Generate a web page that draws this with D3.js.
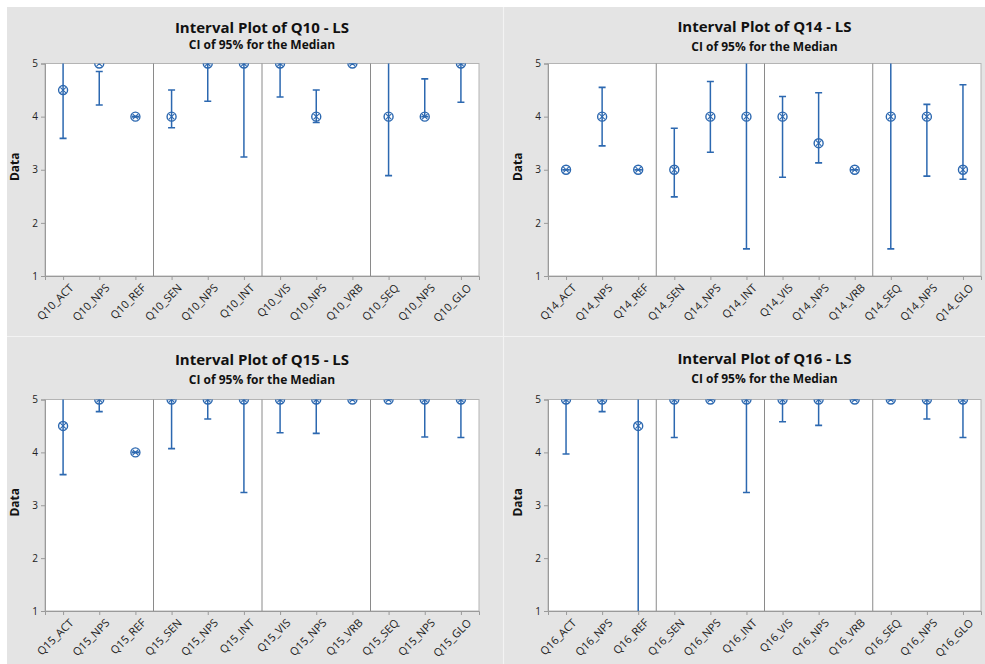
<!DOCTYPE html>
<html>
<head>
<meta charset="utf-8">
<script src="https://cdn.jsdelivr.net/npm/d3@7"></script>
<style>
  html, body { margin: 0; padding: 0; background: #ffffff; }
  svg { display: block; }
  text { font-family: "Open Sans", "Noto Sans", "DejaVu Sans", sans-serif; }
</style>
</head>
<body>
<svg id="chart" width="985" height="664"></svg>
<script>
// ---------------- data ----------------
const yTicks = [1, 2, 3, 4, 5];
const groupBreaks = [2.5, 5.5, 8.5];

const labelsQ10 = ["Q10_ACT","Q10_NPS","Q10_REF","Q10_SEN","Q10_NPS","Q10_INT","Q10_VIS","Q10_NPS","Q10_VRB","Q10_SEQ","Q10_NPS","Q10_GLO"];
const medianQ10 = [4.5, 5, 4, 4, 5, 5, 5, 4, 5, 4, 4, 5];
const lowerQ10  = [3.59, 4.22, 4, 3.79, 4.29, 3.24, 4.37, 3.89, 5, 2.89, 4, 4.27];
const upperQ10  = [5.3, 4.85, 4, 4.5, 5, 5, 5, 4.5, 5, 5.3, 4.71, 5];

const labelsQ14 = ["Q14_ACT","Q14_NPS","Q14_REF","Q14_SEN","Q14_NPS","Q14_INT","Q14_VIS","Q14_NPS","Q14_VRB","Q14_SEQ","Q14_NPS","Q14_GLO"];
const medianQ14 = [3, 4, 3, 3, 4, 4, 4, 3.5, 3, 4, 4, 3];
const lowerQ14  = [3, 3.45, 3, 2.49, 3.33, 1.51, 2.86, 3.13, 3, 1.51, 2.88, 2.82];
const upperQ14  = [3, 4.55, 3, 3.78, 4.66, 5.3, 4.38, 4.45, 3, 5.3, 4.23, 4.6];

const labelsQ15 = ["Q15_ACT","Q15_NPS","Q15_REF","Q15_SEN","Q15_NPS","Q15_INT","Q15_VIS","Q15_NPS","Q15_VRB","Q15_SEQ","Q15_NPS","Q15_GLO"];
const medianQ15 = [4.5, 5, 4, 5, 5, 5, 5, 5, 5, 5, 5, 5];
const lowerQ15  = [3.58, 4.77, 4, 4.07, 4.63, 3.24, 4.37, 4.36, 5, 5, 4.29, 4.28];
const upperQ15  = [5.3, 5, 4, 5, 5, 5, 5, 5, 5, 5, 5, 5];

const labelsQ16 = ["Q16_ACT","Q16_NPS","Q16_REF","Q16_SEN","Q16_NPS","Q16_INT","Q16_VIS","Q16_NPS","Q16_VRB","Q16_SEQ","Q16_NPS","Q16_GLO"];
const medianQ16 = [5, 5, 4.5, 5, 5, 5, 5, 5, 5, 5, 5, 5];
const lowerQ16  = [3.97, 4.77, 0.5, 4.28, 5, 3.24, 4.58, 4.51, 5, 5, 4.63, 4.28];
const upperQ16  = [5, 5, 5.5, 5, 5, 5, 5, 5, 5, 5, 5, 5];

// ---------------- layout ----------------
const panels = [
  { title: "Interval Plot of Q10 - LS", labels: labelsQ10, median: medianQ10, lower: lowerQ10, upper: upperQ10,
    x0: 45, x1: 479, y0: 63.5, y1: 276, titleY: 33, subY: 49 },
  { title: "Interval Plot of Q14 - LS", labels: labelsQ14, median: medianQ14, lower: lowerQ14, upper: upperQ14,
    x0: 548, x1: 981, y0: 63.5, y1: 276, titleY: 32, subY: 51 },
  { title: "Interval Plot of Q15 - LS", labels: labelsQ15, median: medianQ15, lower: lowerQ15, upper: upperQ15,
    x0: 45, x1: 479, y0: 399.5, y1: 611, titleY: 365, subY: 384 },
  { title: "Interval Plot of Q16 - LS", labels: labelsQ16, median: medianQ16, lower: lowerQ16, upper: upperQ16,
    x0: 548, x1: 981, y0: 399.5, y1: 611, titleY: 364, subY: 383 }
];

const BLUE = "#2c68b0";
const svg = d3.select("#chart");

// background
svg.append("rect").attr("x", 0).attr("y", 0).attr("width", 985).attr("height", 664).attr("fill", "#ffffff");
svg.append("rect").attr("x", 7).attr("y", 7).attr("width", 978).attr("height", 657).attr("fill", "#e4e4e4");
svg.append("line").attr("x1", 503.5).attr("x2", 503.5).attr("y1", 7).attr("y2", 664)
  .attr("stroke", "#f3f3f3").attr("stroke-width", 1.2);
svg.append("line").attr("x1", 7).attr("x2", 985).attr("y1", 336.5).attr("y2", 336.5)
  .attr("stroke", "#f3f3f3").attr("stroke-width", 1.2);

panels.forEach((p, pi) => {
  const g = svg.append("g");
  const idx = d3.range(p.labels.length);
  const x = d3.scalePoint().domain(idx).range([p.x0, p.x1]).padding(0.5);
  const y = d3.scaleLinear().domain([1, 5]).range([p.y1, p.y0]);
  const cx = (p.x0 + p.x1) / 2;

  // titles
  g.append("text").attr("x", cx).attr("y", p.titleY).attr("text-anchor", "middle")
    .attr("font-size", 15).attr("font-weight", "bold").attr("fill", "#111").text(p.title);
  g.append("text").attr("x", cx).attr("y", p.subY).attr("text-anchor", "middle")
    .attr("font-size", 12).attr("font-weight", "bold").attr("fill", "#111").text("CI of 95% for the Median");

  // plot area
  g.append("rect").attr("x", p.x0).attr("y", p.y0).attr("width", p.x1 - p.x0).attr("height", p.y1 - p.y0)
    .attr("fill", "#ffffff").attr("stroke", "#b4b4b4").attr("stroke-width", 1);

  // group separators
  g.selectAll("line.sep").data(groupBreaks).join("line").attr("class", "sep")
    .attr("x1", d => (x(Math.floor(d)) + x(Math.ceil(d))) / 2)
    .attr("x2", d => (x(Math.floor(d)) + x(Math.ceil(d))) / 2)
    .attr("y1", p.y0).attr("y2", p.y1)
    .attr("stroke", "#8a8a8a").attr("stroke-width", 1);

  // axes
  const ya = g.append("g").attr("transform", `translate(${p.x0},0)`)
    .call(d3.axisLeft(y).tickValues(yTicks).tickFormat(d3.format("d")).tickSize(4).tickPadding(3));
  ya.select(".domain").attr("stroke", "#9a9a9a");
  ya.selectAll(".tick line").attr("stroke", "#9a9a9a");
  ya.selectAll(".tick text").attr("font-size", 10).attr("fill", "#222")
    .style("font-family", "'Open Sans', sans-serif");

  const xa = g.append("g").attr("transform", `translate(0,${p.y1})`)
    .call(d3.axisBottom(x).tickFormat(i => p.labels[i]).tickSize(4).tickPadding(2));
  xa.select(".domain").attr("stroke", "#9a9a9a");
  xa.selectAll(".tick line").attr("stroke", "#9a9a9a");
  xa.selectAll(".tick text").attr("font-size", 11).attr("fill", "#222")
    .style("font-family", "'Open Sans', sans-serif")
    .attr("text-anchor", "end").attr("dy", "0.3em")
    .attr("transform", "translate(4,6) rotate(-45)");

  // y axis label
  g.append("text").attr("transform", `translate(${p.x0 - 26},${(p.y0 + p.y1) / 2 - 3}) rotate(-90)`)
    .attr("text-anchor", "middle").attr("font-size", 12).attr("font-weight", "bold").attr("fill", "#111")
    .text("Data");

  // clip
  const clipId = "clip" + pi;
  svg.append("clipPath").attr("id", clipId).append("rect")
    .attr("x", p.x0).attr("y", p.y0).attr("width", p.x1 - p.x0).attr("height", p.y1 - p.y0);
  const mg = g.append("g").attr("clip-path", `url(#${clipId})`);

  const rows = idx.map(i => ({ i, m: p.median[i], lo: p.lower[i], hi: p.upper[i] }));
  const capW = 3.5;
  const it = mg.selectAll("g.iv").data(rows).join("g").attr("class", "iv");
  it.append("line").attr("x1", d => x(d.i)).attr("x2", d => x(d.i))
    .attr("y1", d => y(d.lo)).attr("y2", d => y(d.hi))
    .attr("stroke", BLUE).attr("stroke-width", 1.5);
  it.append("line").attr("x1", d => x(d.i) - capW).attr("x2", d => x(d.i) + capW)
    .attr("y1", d => y(d.lo)).attr("y2", d => y(d.lo)).attr("stroke", BLUE).attr("stroke-width", 1.6);
  it.append("line").attr("x1", d => x(d.i) - capW).attr("x2", d => x(d.i) + capW)
    .attr("y1", d => y(d.hi)).attr("y2", d => y(d.hi)).attr("stroke", BLUE).attr("stroke-width", 1.6);
  // median marker (circle with cross)
  const r = 4.5, k = r * 0.62;
  it.append("circle").attr("cx", d => x(d.i)).attr("cy", d => y(d.m)).attr("r", r)
    .attr("fill", "none").attr("stroke", BLUE).attr("stroke-width", 1.4);
  it.append("path").attr("d", d => {
      const X = x(d.i), Y = y(d.m);
      return `M${X - k},${Y - k}L${X + k},${Y + k}M${X - k},${Y + k}L${X + k},${Y - k}`;
    })
    .attr("stroke", BLUE).attr("stroke-width", 1.1).attr("fill", "none");
});
</script>
</body>
</html>
